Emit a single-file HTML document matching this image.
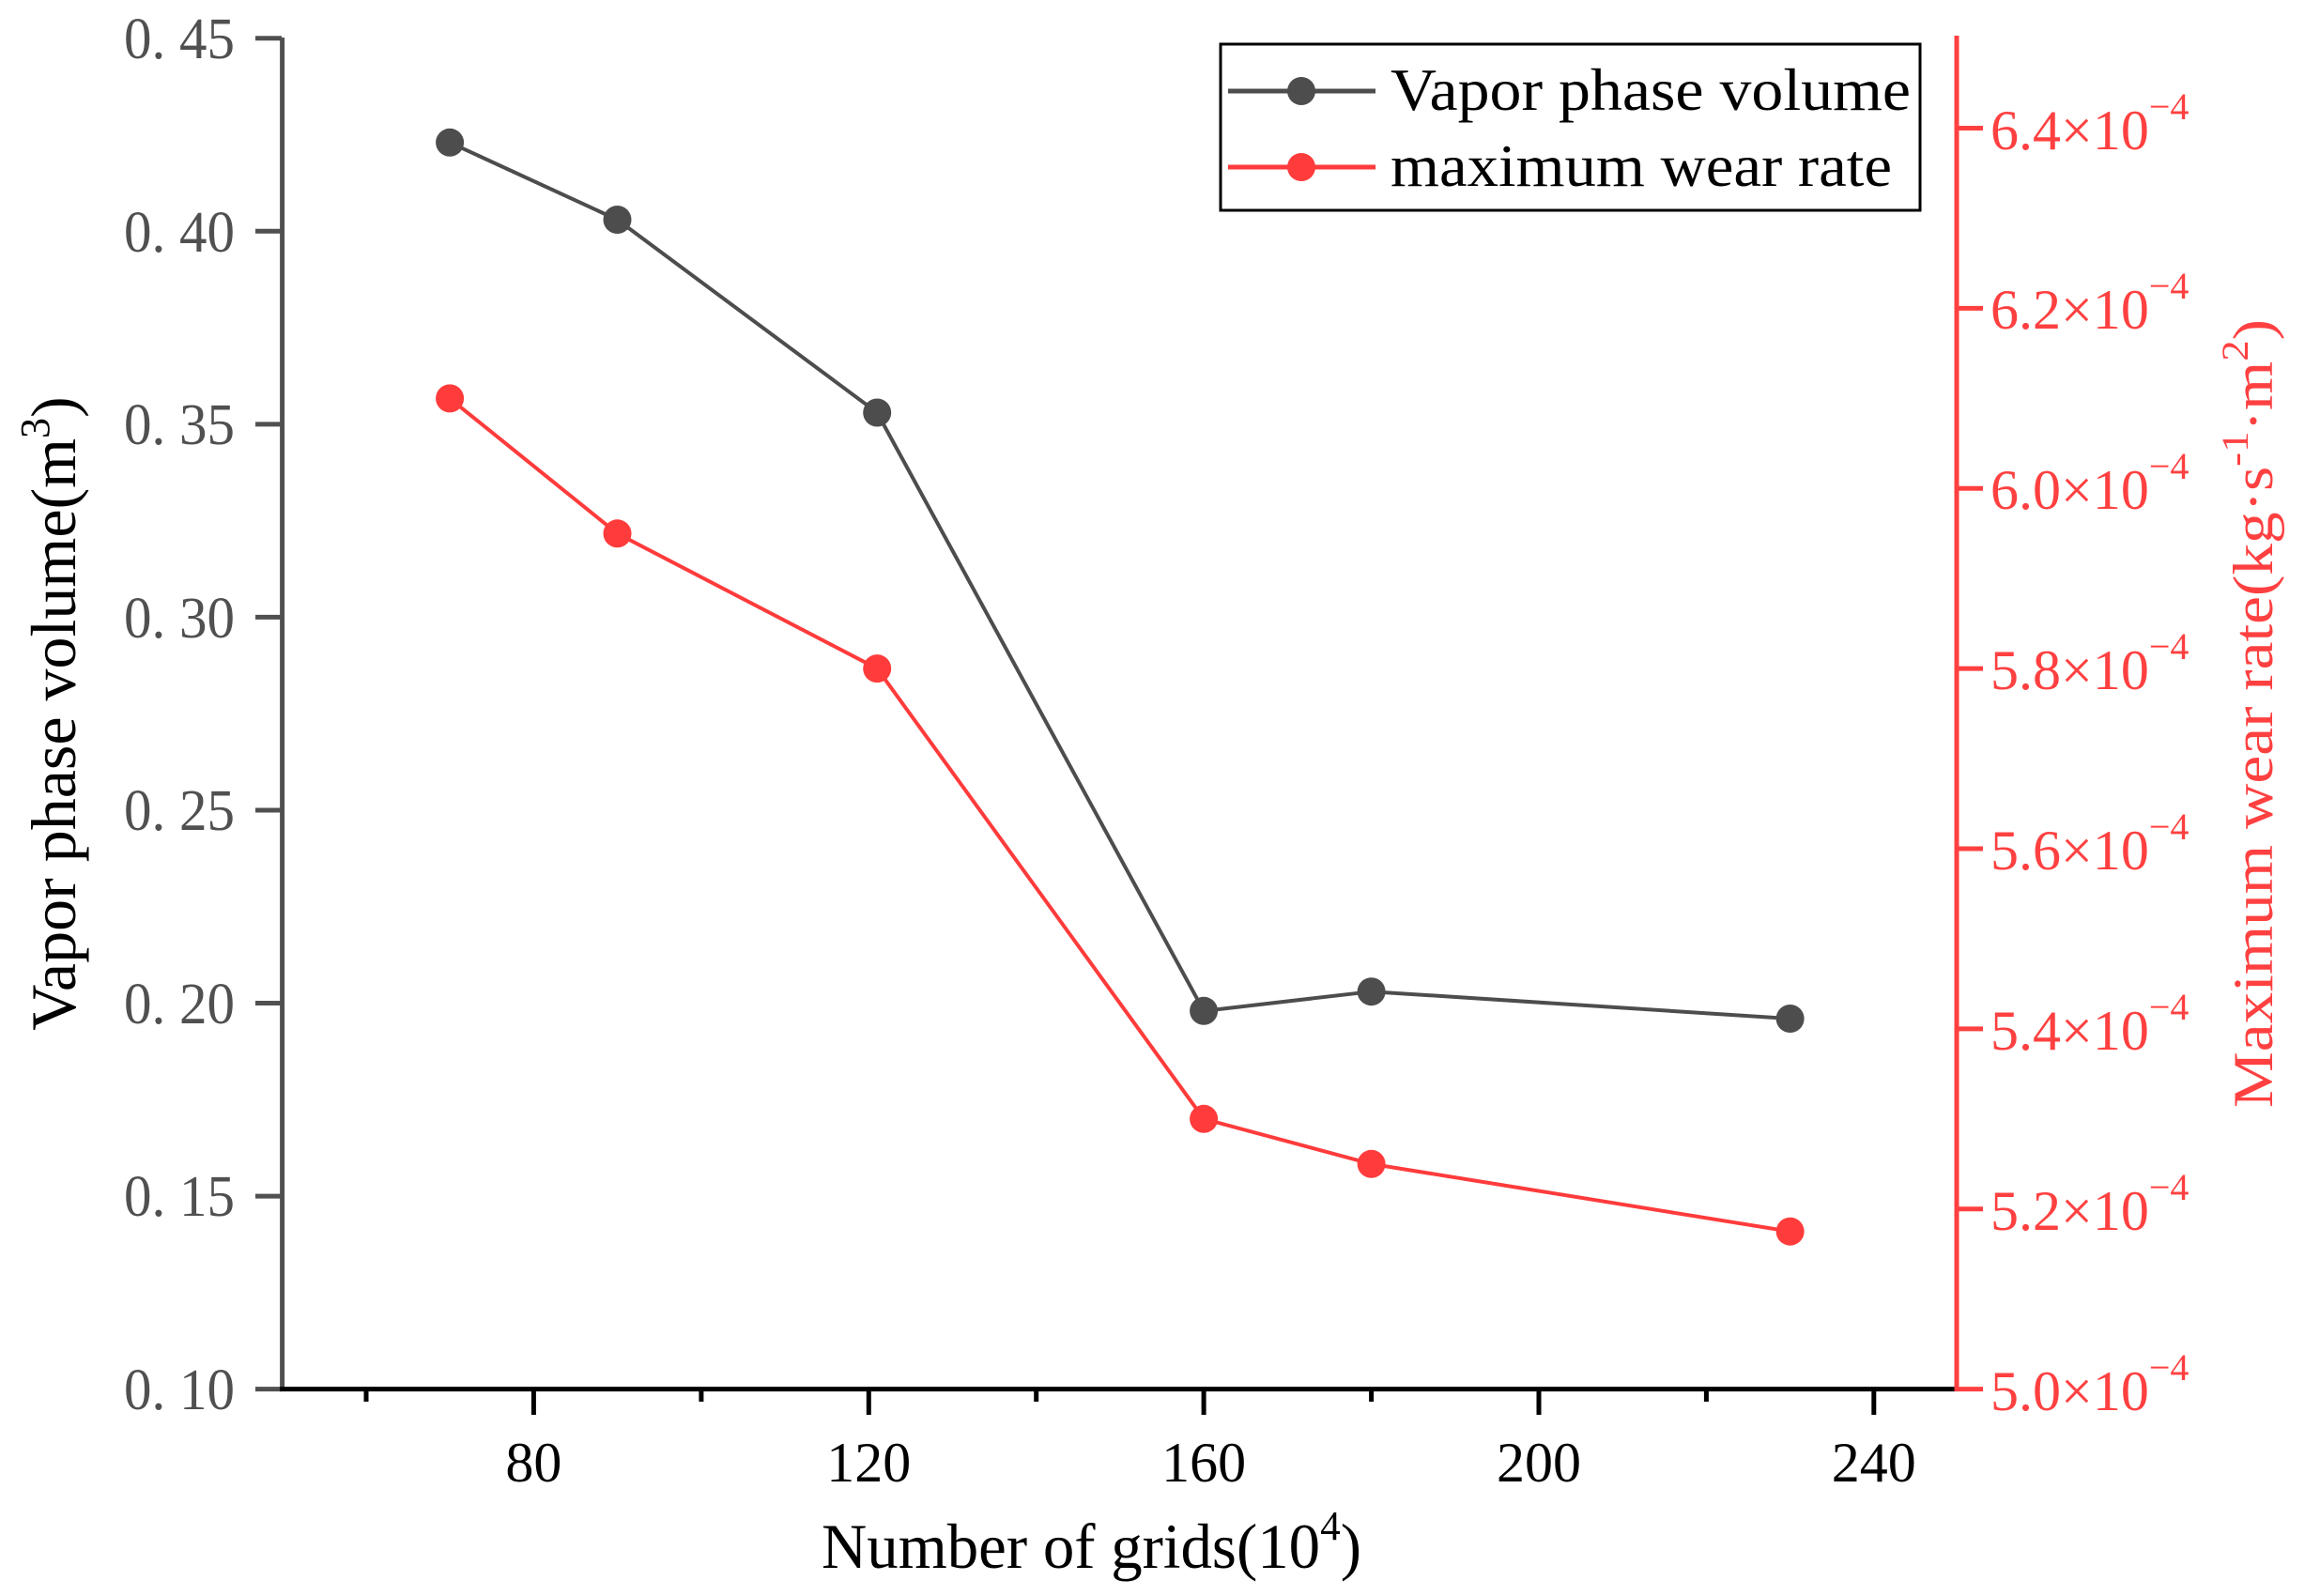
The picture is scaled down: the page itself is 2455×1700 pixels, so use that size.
<!DOCTYPE html>
<html><head><meta charset="utf-8"><style>
html,body{margin:0;padding:0;background:#fff;}
svg{display:block;}
</style></head><body>
<svg width="2455" height="1700" viewBox="0 0 2455 1700" xmlns="http://www.w3.org/2000/svg">
<rect width="2455" height="1700" fill="#fff"/>
<g font-family="Liberation Serif, serif">
<line x1="300.6" y1="40" x2="300.6" y2="1481" stroke="#505050" stroke-width="5"/>
<g stroke="#505050" stroke-width="5">
<line x1="272" y1="40.7" x2="300" y2="40.7"/>
<line x1="272" y1="246.3" x2="300" y2="246.3"/>
<line x1="272" y1="451.9" x2="300" y2="451.9"/>
<line x1="272" y1="657.4" x2="300" y2="657.4"/>
<line x1="272" y1="863" x2="300" y2="863"/>
<line x1="272" y1="1068.5" x2="300" y2="1068.5"/>
<line x1="272" y1="1274.1" x2="300" y2="1274.1"/>
<line x1="272" y1="1479.6" x2="300" y2="1479.6"/>
</g>
<g fill="#505050" font-size="62" text-anchor="end">
<text x="250" y="62" textLength="118" lengthAdjust="spacingAndGlyphs">0. 45</text>
<text x="250" y="268" textLength="118" lengthAdjust="spacingAndGlyphs">0. 40</text>
<text x="250" y="473" textLength="118" lengthAdjust="spacingAndGlyphs">0. 35</text>
<text x="250" y="679" textLength="118" lengthAdjust="spacingAndGlyphs">0. 30</text>
<text x="250" y="884" textLength="118" lengthAdjust="spacingAndGlyphs">0. 25</text>
<text x="250" y="1090" textLength="118" lengthAdjust="spacingAndGlyphs">0. 20</text>
<text x="250" y="1295" textLength="118" lengthAdjust="spacingAndGlyphs">0. 15</text>
<text x="250" y="1501" textLength="118" lengthAdjust="spacingAndGlyphs">0. 10</text>
</g>
<text transform="translate(80,760) rotate(-90)" font-size="68" text-anchor="middle" fill="#000">Vapor phase volume(m<tspan font-size="44" dy="-28">3</tspan><tspan dy="28">)</tspan></text>

<line x1="298" y1="1479.6" x2="2084" y2="1479.6" stroke="#000" stroke-width="5"/>
<g stroke="#000" stroke-width="5">
<line x1="390" y1="1480" x2="390" y2="1493"/>
<line x1="568.4" y1="1480" x2="568.4" y2="1507"/>
<line x1="746.9" y1="1480" x2="746.9" y2="1493"/>
<line x1="925.3" y1="1480" x2="925.3" y2="1507"/>
<line x1="1103.7" y1="1480" x2="1103.7" y2="1493"/>
<line x1="1282.1" y1="1480" x2="1282.1" y2="1507"/>
<line x1="1460.6" y1="1480" x2="1460.6" y2="1493"/>
<line x1="1639" y1="1480" x2="1639" y2="1507"/>
<line x1="1817.4" y1="1480" x2="1817.4" y2="1493"/>
<line x1="1995.8" y1="1480" x2="1995.8" y2="1507"/>
</g>
<g fill="#000" font-size="60" text-anchor="middle">
<text x="568.4" y="1578">80</text>
<text x="925.3" y="1578">120</text>
<text x="1282.1" y="1578">160</text>
<text x="1639" y="1578">200</text>
<text x="1995.8" y="1578">240</text>
</g>
<text x="875" y="1670" font-size="68" fill="#000" textLength="575" lengthAdjust="spacingAndGlyphs">Number of grids(10<tspan font-size="44" dy="-30">4</tspan><tspan dy="30">)</tspan></text>

<line x1="2084" y1="38" x2="2084" y2="1482" stroke="#ff4040" stroke-width="5"/>
<g stroke="#ff4040" stroke-width="5">
<line x1="2084" y1="1479.6" x2="2112" y2="1479.6"/>
<line x1="2084" y1="1287.7" x2="2112" y2="1287.7"/>
<line x1="2084" y1="1095.9" x2="2112" y2="1095.9"/>
<line x1="2084" y1="904" x2="2112" y2="904"/>
<line x1="2084" y1="712.1" x2="2112" y2="712.1"/>
<line x1="2084" y1="520.3" x2="2112" y2="520.3"/>
<line x1="2084" y1="328.4" x2="2112" y2="328.4"/>
<line x1="2084" y1="136.5" x2="2112" y2="136.5"/>
</g>
<g fill="#ff4040" font-size="60">
<text x="2120" y="1502">5.0×10<tspan font-size="40" dy="-32">−4</tspan></text>
<text x="2120" y="1310">5.2×10<tspan font-size="40" dy="-32">−4</tspan></text>
<text x="2120" y="1118">5.4×10<tspan font-size="40" dy="-32">−4</tspan></text>
<text x="2120" y="926">5.6×10<tspan font-size="40" dy="-32">−4</tspan></text>
<text x="2120" y="734">5.8×10<tspan font-size="40" dy="-32">−4</tspan></text>
<text x="2120" y="542">6.0×10<tspan font-size="40" dy="-32">−4</tspan></text>
<text x="2120" y="350">6.2×10<tspan font-size="40" dy="-32">−4</tspan></text>
<text x="2120" y="159">6.4×10<tspan font-size="40" dy="-32">−4</tspan></text>
</g>
<text transform="translate(2420,760) rotate(-90)" font-size="60" text-anchor="middle" fill="#ff4040" textLength="840" lengthAdjust="spacingAndGlyphs">Maximum wear rate(kg·s<tspan font-size="40" dy="-26">-1</tspan><tspan dy="26">·m</tspan><tspan font-size="40" dy="-26">2</tspan><tspan dy="26">)</tspan></text>

<polyline fill="none" stroke="#4d4d4d" stroke-width="4" points="479.1,151.8 657.5,234 934.2,439.5 1282.1,1076.8 1460.6,1056.2 1906.6,1085"/>
<g fill="#4d4d4d">
<circle cx="479.1" cy="151.8" r="15"/><circle cx="657.5" cy="234" r="15"/><circle cx="934.2" cy="439.5" r="15"/>
<circle cx="1282.1" cy="1076.8" r="15"/><circle cx="1460.6" cy="1056.2" r="15"/><circle cx="1906.6" cy="1085" r="15"/>
</g>
<polyline fill="none" stroke="#ff3b3b" stroke-width="4" points="479.1,424.4 657.5,568.3 934.2,712.1 1282.1,1191.8 1460.6,1239.8 1906.6,1311.7"/>
<g fill="#ff3b3b">
<circle cx="479.1" cy="424.4" r="15"/><circle cx="657.5" cy="568.3" r="15"/><circle cx="934.2" cy="712.1" r="15"/>
<circle cx="1282.1" cy="1191.8" r="15"/><circle cx="1460.6" cy="1239.8" r="15"/><circle cx="1906.6" cy="1311.7" r="15"/>
</g>

<rect x="1300" y="47" width="745" height="177" fill="#fff" stroke="#000" stroke-width="3"/>
<line x1="1308" y1="97" x2="1465" y2="97" stroke="#4d4d4d" stroke-width="5"/>
<circle cx="1386" cy="97" r="15" fill="#4d4d4d"/>
<line x1="1308" y1="178" x2="1465" y2="178" stroke="#ff3b3b" stroke-width="5"/>
<circle cx="1386" cy="178" r="15" fill="#ff3b3b"/>
<text x="1481" y="117" font-size="64" fill="#000" textLength="554" lengthAdjust="spacingAndGlyphs">Vapor phase volume</text>
<text x="1481" y="198" font-size="64" fill="#000" textLength="534" lengthAdjust="spacingAndGlyphs">maximum wear rate</text>
</g>
</svg>
</body></html>
